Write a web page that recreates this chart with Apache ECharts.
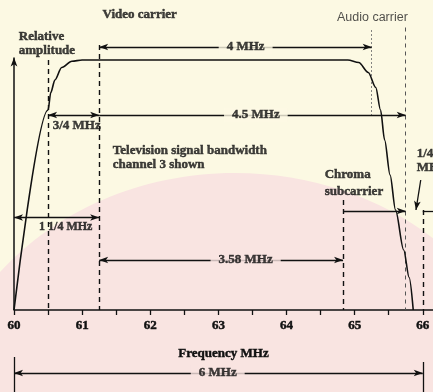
<!DOCTYPE html>
<html>
<head>
<meta charset="utf-8">
<script src="https://cdn.jsdelivr.net/npm/echarts@6/dist/echarts.min.js"></script>
<style>
  html, body { margin: 0; padding: 0; background: #fcf9e3; }
  #chart { width: 433px; height: 392px; }
</style>
</head>
<body>
<div id="chart"></div>
<script>
// Frequency axis (MHz)
const freqTicks = [60, 60.5, 61, 61.5, 62, 62.5, 63, 63.5, 64, 64.5, 65, 65.5, 66];
const freqLabels = [60, 61, 62, 63, 64, 65, 66];

// Channel 3 response envelope: frequency (MHz) and relative amplitude
const envFreq = [60.0, 60.5, 60.54, 60.6, 60.7, 60.85, 61.0, 64.9, 65.06, 65.2, 65.31, 65.38, 65.44, 65.52, 65.6, 65.72, 65.8, 65.86];
const envAmp  = [0.0, 0.8, 0.87, 0.92, 0.97, 0.995, 1.0, 1.0, 0.99, 0.95, 0.89, 0.8, 0.68, 0.54, 0.40, 0.24, 0.13, 0.0];

// Relative amplitude axis runs from 0 up to the arrow tip
const ampAxisTop = 1.01;

// Vertical reference lines: frequency, top and bottom level
const guideFreq = [60.5, 61.25, 64.83, 65.25, 65.75, 66];
const guideTop  = [1.0, 1.06, 0.44, 1.12, 1.13, 0.40];
const guideBase = [0, 0, 0, 0.77, 0, 0];

// Dimension spans (MHz) and the level they are drawn at
const spanName  = ['4 MHz', '3/4 MHz', '4.5 MHz', '1 1/4 MHz', '3.58 MHz', '6 MHz', ''];
const spanFrom  = [61.25, 60.5, 61.25, 60.0, 61.25, 60.0, 64.83];
const spanTo    = [65.25, 61.25, 65.75, 61.25, 64.83, 66.0, 65.75];
const spanLevel = [1.052, 0.78, 0.78, 0.37, 0.2, -0.252, 0.396];
const spanStartHead = [true, true, false, true, true, true, false];
const spanLabelFreq  = [63.40, 60.92, 63.55, 60.76, 63.40, 62.99, null];
const spanLabelLevel = [1.052, 0.736, 0.78, 0.332, 0.2, -0.252, null];

// End bars of the 6 MHz channel span
const barFreq = [60, 66];
const barTop  = [-0.188, -0.208];
const barBase = [-0.328, -0.328];

// Side notes
const noteText  = ['Video carrier', 'Audio carrier', 'Relative\namplitude', 'Television signal bandwidth\nchannel 3 shown', 'Chroma\nsubcarrier', '1/4\nMHz'];
const noteFreq  = [61.30, 64.74, 60.07, 61.45, 64.56, 65.91];
const noteLevel = [1.18, 1.168, 1.064, 0.608, 0.508, 0.598];

const AMP_MIN = -0.328;
const AMP_MAX = 1.24;

const INK = '#111111';
const CREAM = '#fcf9e3';
const PINK = '#f9e4e1';
const SERIF = '"Liberation Serif", "DejaVu Serif", serif';
// heavy print-style lettering
const HEAVY = { fontFamily: SERIF, fontWeight: 'bold', color: INK, textBorderColor: INK, textBorderWidth: 0.45 };

const chart = echarts.init(document.getElementById('chart'), null, { renderer: 'canvas' });

// lift the frequency axis from the grid's bottom edge up to zero amplitude
const plotHeight = 392;
const zeroLift = plotHeight * (0 - AMP_MIN) / (AMP_MAX - AMP_MIN);

const envelope = envFreq.map((f, i) => [f, envAmp[i]]);

const guideStyle = (f) => {
  if (f === 65.25) return { type: [2, 2], width: 0.9, color: '#777' };
  if (f === 65.75) return { type: [4, 4], width: 1, color: '#555' };
  return { type: [5, 4], width: 1.4, color: INK };
};

const guideLines = guideFreq.map((f, i) => [
  { coord: [f, guideTop[i]], symbol: 'none', lineStyle: guideStyle(f) },
  { coord: [f, guideBase[i]], symbol: 'none' }
]);

const spanLines = spanFrom.map((f, i) => [
  { coord: [f, spanLevel[i]], symbol: spanStartHead[i] ? 'arrow' : 'none' },
  { coord: [spanTo[i], spanLevel[i]], symbol: 'arrow' }
]);

const barLines = barFreq.map((f, i) => [
  { coord: [f, barTop[i]], symbol: 'none' },
  { coord: [f, barBase[i]], symbol: 'none' }
]);

// amplitude axis with its arrow, the 1/4 MHz pointer and its right-hand bracket
const extraLines = [
  [{ coord: [60, 0], symbol: 'none', lineStyle: { width: 1.5 } }, { coord: [60, ampAxisTop], symbol: 'arrow' }],
  [{ coord: [65.97, 0.52], symbol: 'none' }, { coord: [65.90, 0.40], symbol: 'arrow' }],
  [{ coord: [66.0, 0.396], symbol: 'none' }, { coord: [66.15, 0.396], symbol: 'none' }]
];

const spanLabels = [];
spanName.forEach((name, i) => {
  if (!name) return;
  const inline = spanLabelLevel[i] === spanLevel[i];
  spanLabels.push({
    value: [spanLabelFreq[i], spanLabelLevel[i]],
    name: name,
    label: {
      backgroundColor: inline ? (spanLevel[i] < 0.5 ? PINK : CREAM) : 'transparent',
      padding: inline ? [1, 8] : 0,
      fontSize: name === '1 1/4 MHz' ? 12 : 13
    }
  });
});

const notes = noteText.map((t, i) => ({
  value: [noteFreq[i], noteLevel[i]],
  name: t,
  label: i === 1
    ? { align: 'left', lineHeight: 14, fontFamily: '"Liberation Sans", sans-serif', fontWeight: 'normal', fontSize: 12.5, color: '#262626' }
    : Object.assign({ align: 'left', lineHeight: i === 4 ? 17 : 14, fontSize: 13 }, HEAVY)
}));

chart.setOption({
  backgroundColor: CREAM,
  animation: false,
  graphic: [{
    type: 'ellipse',
    silent: true,
    z: -10,
    shape: { cx: 235, cy: 435, rx: 300, ry: 262 },
    style: { fill: PINK }
  }],
  grid: { left: 14, right: 0, top: 0, bottom: 0, outerBoundsMode: 'none' },
  xAxis: {
    type: 'value',
    min: 60,
    max: 66.15,
    position: 'bottom',
    offset: -zeroLift,
    name: 'Frequency MHz',
    nameLocation: 'middle',
    nameGap: 37,
    nameTextStyle: Object.assign({ fontSize: 13 }, HEAVY),
    axisLine: { onZero: false, lineStyle: { color: INK, width: 1.5 } },
    axisTick: { customValues: freqTicks, length: 5, lineStyle: { color: INK, width: 1.3 } },
    axisLabel: Object.assign({ customValues: freqLabels, margin: 9, fontSize: 13 }, HEAVY),
    splitLine: { show: false }
  },
  yAxis: {
    type: 'value',
    min: AMP_MIN,
    max: AMP_MAX,
    show: false,
    splitLine: { show: false }
  },
  series: [
    {
      name: 'envelope',
      type: 'line',
      data: envelope,
      smooth: 0.3,
      smoothMonotone: 'x',
      showSymbol: false,
      silent: true,
      clip: false,
      lineStyle: { color: INK, width: 1.6 },
      z: 5
    },
    {
      name: 'guides',
      type: 'line',
      data: [],
      clip: false,
      silent: true,
      markLine: {
        silent: true,
        symbol: 'none',
        label: { show: false },
        lineStyle: { color: INK, width: 1.4, type: [5, 4] },
        emphasis: { disabled: true },
        data: guideLines
      }
    },
    {
      name: 'spans',
      type: 'line',
      data: [],
      clip: false,
      silent: true,
      markLine: {
        silent: true,
        symbolSize: [5, 9],
        label: { show: false },
        lineStyle: { color: INK, width: 1.3, type: 'solid' },
        emphasis: { disabled: true },
        data: spanLines.concat(barLines, extraLines)
      }
    },
    {
      name: 'span labels',
      type: 'scatter',
      data: spanLabels,
      symbolSize: 0,
      clip: false,
      silent: true,
      z: 10,
      label: Object.assign({
        show: true,
        position: 'inside',
        formatter: '{b}',
        fontSize: 13
      }, HEAVY)
    },
    {
      name: 'notes',
      type: 'scatter',
      data: notes,
      symbolSize: 0,
      clip: false,
      silent: true,
      z: 10,
      label: {
        show: true,
        position: 'inside',
        formatter: '{b}',
        verticalAlign: 'middle'
      }
    }
  ]
});
</script>
</body>
</html>
